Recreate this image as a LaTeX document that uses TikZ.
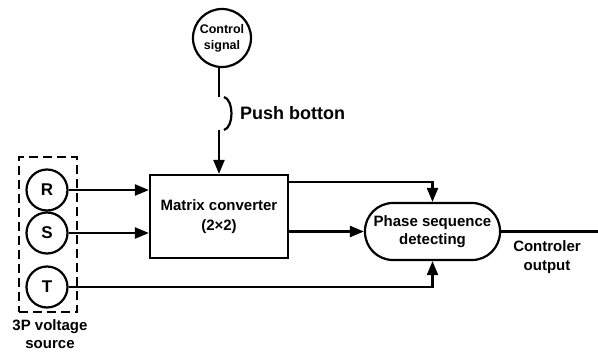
\documentclass[tikz,border=0pt]{standalone}
\usepackage{fontspec}
\setmainfont{Liberation Sans}
\usetikzlibrary{arrows.meta,calc}
\begin{document}
\begin{tikzpicture}[x=1pt,y=-1pt,line width=2.2pt,
  font=\bfseries,
  tip/.style={-{Triangle[length=14pt,width=11pt]}},
  phase/.style={draw,circle,minimum size=41pt,inner sep=0pt,font=\fontsize{17}{20}\selectfont\bfseries},
  blk/.style={draw,align=center,inner sep=0pt},
  lbl/.style={align=center,inner sep=0pt}]
\useasboundingbox (0,0) rectangle (598,354);
% nodes
\node[draw,circle,minimum size=58pt,inner sep=0pt,align=center,font=\fontsize{12.5}{16}\selectfont\bfseries] (cs) at (222,38) {Control\\signal};
\node[blk,minimum width=138pt,minimum height=83pt,font=\fontsize{15}{20}\selectfont\bfseries] (mc) at (219,216.5) {Matrix converter\\(2×2)};
\node[blk,minimum width=135pt,minimum height=57pt,rounded corners=28pt,font=\fontsize{15}{18}\selectfont\bfseries] (psd) at (432.5,231.5) {Phase sequence\\detecting};
\node[phase] (R) at (47,190) {R};
\node[phase] (S) at (47,233) {S};
\node[phase] (T) at (47,287) {T};
\node[draw,dash pattern=on 9pt off 5pt,minimum width=58pt,minimum height=155pt,inner sep=0pt] (src) at (48,234.5) {};
\node[lbl,font=\fontsize{15}{18}\selectfont\bfseries] (srclbl) at (50,334) {3P voltage\\source};
\node[lbl,anchor=west,font=\fontsize{18}{20}\selectfont\bfseries] (pb) at (239,113) {Push botton};
\node[lbl,font=\fontsize{15}{19}\selectfont\bfseries] (outlbl) at (547,257.5) {Controler\\output};
% coordinates
\coordinate (pbtop) at (219,97);
\coordinate (pbbot) at (219,130);
\coordinate (out) at (598,231.5);
% connectors
\draw (cs.south -| pbtop) -- (pbtop);
\draw ($(pbtop)+(5,0)$) .. controls +(10,3) and +(10,-3) .. ($(pbbot)+(5,0)$);
\draw[tip] (pbbot) -- (pbbot |- mc.north);
\draw[tip] (R) -- (R -| mc.west);
\draw[tip] (S) -- (S -| mc.west);
\draw[tip] (mc.east |- 0,182) -- (432.5,182) -- (psd.north);
\draw[tip] (mc.east |- psd.west) -- (psd.west);
\draw[tip] (T) -- (432.5,287) -- (psd.south);
\draw (psd.east) -- (out);
\end{tikzpicture}
\end{document}
